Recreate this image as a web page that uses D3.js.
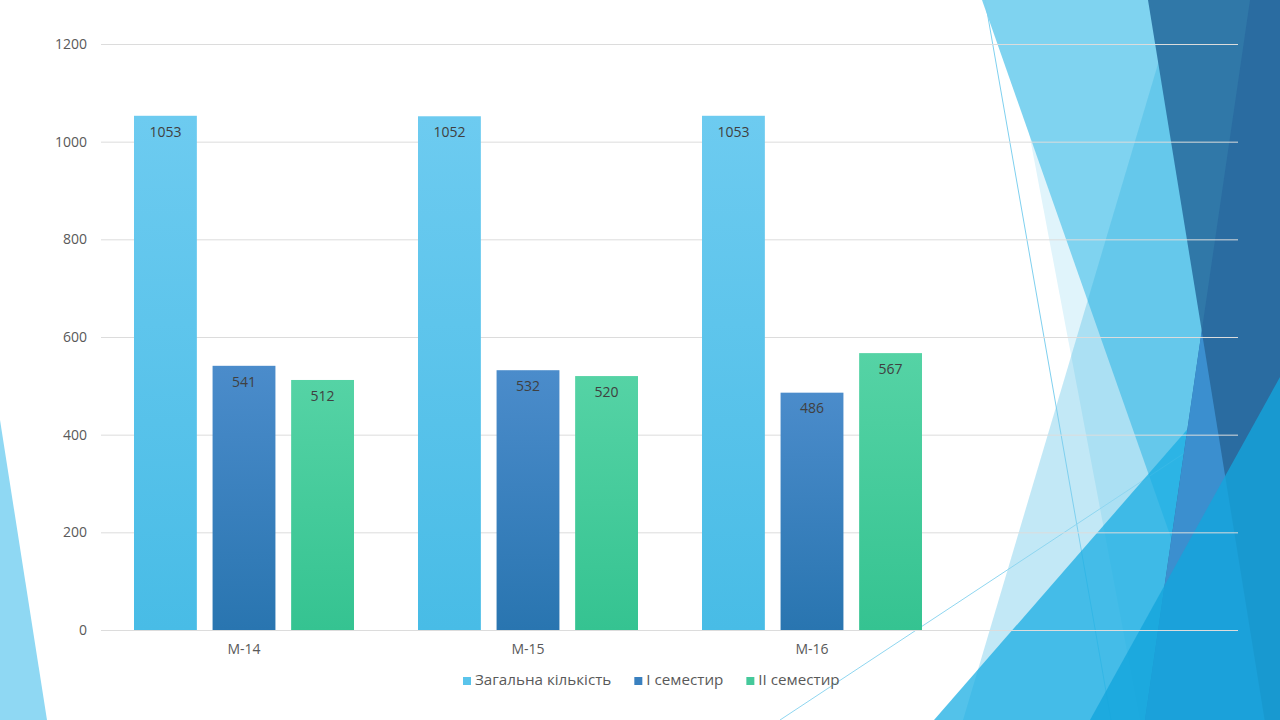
<!DOCTYPE html>
<html>
<head>
<meta charset="utf-8">
<script src="https://cdn.jsdelivr.net/npm/d3@7"></script>
<style>
  html, body { margin: 0; padding: 0; background: #ffffff; }
  svg { display: block; font-family: "Open Sans", "DejaVu Sans", sans-serif; }
</style>
</head>
<body>
<svg id="chart" width="1280" height="720"></svg>
<script>
// ---- data ----
const categories = ["М-14", "М-15", "М-16"];
const seriesNames = ["Загальна кількість", "І семестир", "ІІ семестир"];
const totalValues = [1053, 1052, 1053];
const sem1Values = [541, 532, 486];
const sem2Values = [512, 520, 567];
const yTicks = [0, 200, 400, 600, 800, 1000, 1200];

const seriesValues = [totalValues, sem1Values, sem2Values];
const table = categories.map((c, i) => ({
  category: c,
  values: seriesNames.map((s, j) => ({ series: s, idx: j, value: seriesValues[j][i] }))
}));

// ---- styles ----
const gradStops = [
  ["#6dcbf0", "#48bce6"],
  ["#4b8ccb", "#2975b0"],
  ["#55d3a5", "#35c391"]
];
const legendColors = ["#5ac4eb", "#3a80bf", "#45c99b"];

const svg = d3.select("#chart");

// ---- decorative theme shapes (background) ----
const decor = [
  { pts: [[0,420],[47,720],[0,720]], fill: "#8fd8f3", op: 1 },
  { pts: [[1004,0],[1280,0],[1280,720],[1140,720]], fill: "#e0f4fb", op: 1 },
  { pts: [[982,0],[1280,0],[1280,720],[1235,720]], fill: "#7fd3f0", op: 1 },
  { pts: [[1177,0],[1280,0],[1280,720],[963,720]], fill: "#25ace0", op: 0.28 },
  { line: [[985,0],[1111,720]], stroke: "#7fd0ef" },
  { line: [[780,720],[1280,390]], stroke: "#8fd6f0" },
  { pts: [[934,720],[1280,323],[1280,720]], fill: "#1aaee3", op: 0.75 },
  { pts: [[1148,0],[1280,0],[1280,720],[1265,720]], fill: "#3078a8", op: 1 },
  { pts: [[1250,0],[1280,0],[1280,720],[1145,720]], fill: "#2a6ca1", op: 1 },
  { pts: [[1201.7,331],[1264.6,720],[1144.9,720]], fill: "#3b8fcf", op: 1 },
  { pts: [[1090,720],[1280,377],[1280,720]], fill: "rgb(20,165,220)", op: 0.8 }
];
const gDecor = svg.append("g");
decor.forEach(d => {
  if (d.pts) {
    gDecor.append("polygon")
      .attr("points", d.pts.map(p => p.join(",")).join(" "))
      .attr("fill", d.fill).attr("fill-opacity", d.op);
  } else {
    gDecor.append("line")
      .attr("x1", d.line[0][0]).attr("y1", d.line[0][1])
      .attr("x2", d.line[1][0]).attr("y2", d.line[1][1])
      .attr("stroke", d.stroke).attr("stroke-width", 1);
  }
});

// ---- gradients ----
const defs = svg.append("defs");
gradStops.forEach((s, i) => {
  const g = defs.append("linearGradient").attr("id", "grad" + i)
    .attr("x1", 0).attr("y1", 0).attr("x2", 0).attr("y2", 1);
  g.append("stop").attr("offset", "0%").attr("stop-color", s[0]);
  g.append("stop").attr("offset", "100%").attr("stop-color", s[1]);
});

// ---- scales ----
const plotLeft = 101, plotRight = 1238, plotTop = 44, plotBottom = 630;
const x0 = d3.scaleBand().domain(categories).range([plotLeft, 953]).paddingInner(0).paddingOuter(0);
const x1 = d3.scaleBand().domain(d3.range(seriesNames.length)).range([33, 253]).paddingInner(0.2).paddingOuter(0);
const y = d3.scaleLinear().domain([0, 1200]).range([plotBottom, plotTop]);

// ---- gridlines ----
const yAxis = d3.axisLeft(y).tickValues(yTicks).tickSize(-(plotRight - plotLeft)).tickPadding(14).tickFormat(d3.format("d"));
const gy = svg.append("g").attr("transform", `translate(${plotLeft},0)`).call(yAxis);
gy.select(".domain").remove();
gy.selectAll(".tick line").attr("stroke", "#dcdcdc").attr("stroke-width", 1);
gy.selectAll(".tick text").attr("fill", "#595959").attr("font-size", 14)
  .attr("font-family", "'Open Sans', 'DejaVu Sans', sans-serif");

// ---- bars ----
const groups = svg.append("g").selectAll("g").data(table).join("g")
  .attr("transform", d => `translate(${x0(d.category)},0)`);

groups.selectAll("rect").data(d => d.values).join("rect")
  .attr("x", d => x1(d.idx))
  .attr("width", x1.bandwidth())
  .attr("y", d => y(d.value))
  .attr("height", d => y(0) - y(d.value))
  .attr("fill", d => `url(#grad${d.idx})`);

groups.selectAll("text.val").data(d => d.values).join("text")
  .attr("class", "val")
  .attr("x", d => x1(d.idx) + x1.bandwidth() / 2)
  .attr("y", d => y(d.value) + 17)
  .attr("text-anchor", "middle")
  .attr("dominant-baseline", "middle")
  .attr("fill", "#404040")
  .attr("font-size", 14)
  .text(d => d.value);

// ---- x axis labels ----
const xAxis = d3.axisBottom(x0).tickSize(0).tickPadding(14);
const gx = svg.append("g").attr("transform", `translate(0,${plotBottom})`).call(xAxis);
gx.select(".domain").remove();
gx.selectAll(".tick text").attr("fill", "#595959").attr("font-size", 14)
  .attr("font-family", "'Open Sans', 'DejaVu Sans', sans-serif");
gx.selectAll(".tick").attr("transform", d => `translate(${x0(d) + 143},0)`);

// ---- legend ----
const legend = svg.append("g").attr("transform", "translate(463,681)");
let lx = 0;
seriesNames.forEach((name, i) => {
  const it = legend.append("g").attr("transform", `translate(${lx},0)`);
  it.append("rect").attr("x", 0).attr("y", -4).attr("width", 8).attr("height", 8).attr("fill", legendColors[i]);
  const t = it.append("text").attr("x", 12).attr("y", 0).attr("dominant-baseline", "middle")
    .attr("fill", "#595959").attr("font-size", 15.2).text(name);
  lx += 12 + t.node().getComputedTextLength() + 23;
});
</script>
</body>
</html>
